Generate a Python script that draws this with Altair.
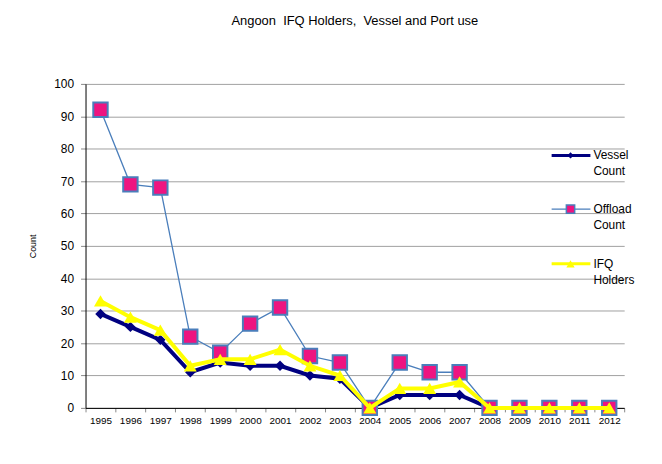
import altair as alt
import pandas as pd

years = [str(y) for y in range(1995, 2013)]
vessel = [29, 25, 21, 11, 14, 13, 13, 10, 9, 0, 4, 4, 4, 0, 0, 0, 0, 0]
offload = [92, 69, 68, 22, 17, 26, 31, 16, 14, 0, 14, 11, 11, 0, 0, 0, 0, 0]
ifq = [33, 28, 24, 13, 15, 15, 18, 13, 10, 0, 6, 6, 8, 0, 0, 0, 0, 0]

legend_line1 = ["Vessel", "Offload", "IFQ"]
legend_line2 = ["Count", "Count", "Holders"]

FONT = "Liberation Sans"
NAVY = "#000080"
PINK = "#EE1480"
BLUE = "#4A7EBB"
YELLOW = "#FFFF00"

df = pd.DataFrame({"year": years, "vessel": vessel, "offload": offload, "ifq": ifq})

xscale = alt.Scale(type="band", paddingInner=0, paddingOuter=0)
x_axis_def = alt.Axis(title=None, labelAngle=0, tickBand="extent", tickSize=4,
                      labelPadding=4, labelFontSize=10, labelFont=FONT,
                      labelColor="black", domainColor="black", tickColor="#888888",
                      grid=False)
yscale = alt.Scale(domain=[0, 100])
y_axis_def = alt.Axis(title="Count", values=list(range(0, 101, 10)), grid=True,
                      gridColor="#A0A0A0", domainColor="black", ticks=True, tickSize=5,
                      tickColor="#888888",
                      labelPadding=7, labelFontSize=12, labelFont=FONT, labelColor="black",
                      titleFont=FONT, titleFontSize=9, titleFontWeight="normal",
                      titleColor="black", titleX=-53, titleY=163, titleBaseline="middle")


def X():
    return alt.X("year:O", scale=xscale, bandPosition=0.5, axis=x_axis_def)


def Y(f):
    return alt.Y(f + ":Q", scale=yscale, axis=y_axis_def)


base = alt.Chart(df)

vessel_line = base.mark_line(color=NAVY, strokeWidth=4).encode(x=X(), y=Y("vessel"))
vessel_pts = base.mark_point(shape="diamond", filled=True, color=NAVY, size=110, opacity=1).encode(
    x=X(), y=Y("vessel"))
off_line = base.mark_line(color=BLUE, strokeWidth=1.3).encode(x=X(), y=Y("offload"))
off_pts = base.mark_point(shape="square", filled=True, fill=PINK, stroke=BLUE, strokeWidth=2,
                          size=210, opacity=1).encode(x=X(), y=Y("offload"))
ifq_line = base.mark_line(color=YELLOW, strokeWidth=4).encode(x=X(), y=Y("ifq"))
ifq_pts = base.mark_point(shape="triangle-up", filled=True, color=YELLOW, size=170, opacity=1).encode(
    x=X(), y=Y("ifq"))

# manual legend (fixed pixel positions at the right of the plot)
one = alt.Chart(pd.DataFrame({"k": [0]}))
item_y = [72, 126, 181]
styles = [
    dict(line=dict(color=NAVY, strokeWidth=3),
         pt=dict(shape="diamond", filled=True, color=NAVY, size=40, opacity=1)),
    dict(line=dict(color=BLUE, strokeWidth=1.3),
         pt=dict(shape="square", filled=True, fill=PINK, stroke=BLUE, strokeWidth=1.5, size=70, opacity=1)),
    dict(line=dict(color=YELLOW, strokeWidth=3),
         pt=dict(shape="triangle-up", filled=True, color=YELLOW, size=70, opacity=1)),
]
legend_layers = []
for i in range(3):
    yy = item_y[i]
    legend_layers.append(one.mark_rule(**styles[i]["line"]).encode(
        x=alt.value(469), x2=alt.value(508), y=alt.value(yy)))
    legend_layers.append(one.mark_point(**styles[i]["pt"]).encode(
        x=alt.value(488), y=alt.value(yy)))
    legend_layers.append(one.mark_text(align="left", baseline="middle", font=FONT, fontSize=12,
                                       color="black").encode(
        x=alt.value(511), y=alt.value(yy), text=alt.value(legend_line1[i])))
    legend_layers.append(one.mark_text(align="left", baseline="middle", font=FONT, fontSize=12,
                                       color="black").encode(
        x=alt.value(511), y=alt.value(yy + 16), text=alt.value(legend_line2[i])))

chart = alt.layer(
    vessel_line, vessel_pts, off_line, off_pts, ifq_line, ifq_pts, *legend_layers
).properties(
    width=542, height=326,
    title=alt.TitleParams("Angoon\u00a0 IFQ Holders,\u00a0 Vessel and Port use", font=FONT,
                          fontSize=13, fontWeight="normal", color="black", offset=50),
    autosize=alt.AutoSizeParams(type="none"),
    padding={"left": 78, "top": 75, "right": 30, "bottom": 40},
    background="white",
).configure_view(stroke=None)

chart.save("out.html", embed_options={"renderer": "svg", "actions": False})
